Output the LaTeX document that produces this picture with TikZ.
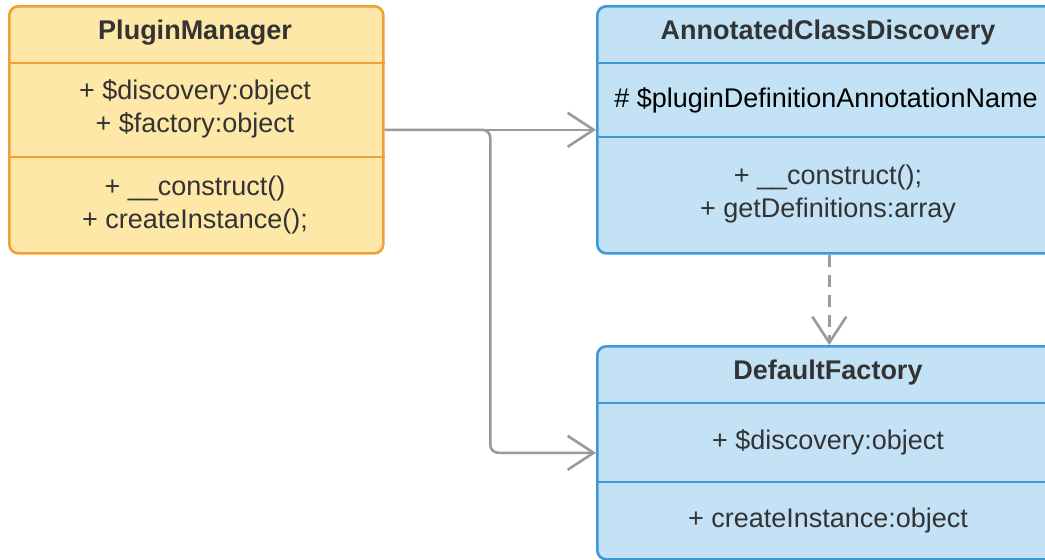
\documentclass[tikz,border=0pt]{standalone}
\usepackage{fontspec}
\setmainfont{Liberation Sans}
\usepackage{xcolor}
\usetikzlibrary{arrows.meta,calc}

\definecolor{pmfill}{HTML}{FEE8A8}
\definecolor{pmedge}{HTML}{F0A136}
\definecolor{clsfill}{HTML}{C3E2F5}
\definecolor{clsedge}{HTML}{3B9AD8}
\definecolor{linkgray}{HTML}{9A9A9A}
\definecolor{txt}{HTML}{333333}

\begin{document}
\begin{tikzpicture}[x=1pt,y=-1pt,
  every node/.style={font=\fontsize{27}{33}\selectfont, text=txt},
  classbox/.style={draw=#1edge, fill=#1fill, line width=2.6pt, rounded corners=9pt,
    anchor=north west, inner sep=0pt},
  divider/.style={draw=#1edge, line width=2.6pt},
  title/.style={font=\fontsize{27}{33}\selectfont\bfseries},
  member/.style={align=center},
  link/.style={draw=linkgray, line width=2.6pt, -{Straight Barb[length=26pt,width=34pt,line width=2.6pt]}},
  depend/.style={link, dash pattern=on 12pt off 8pt}]
\useasboundingbox (0,0) rectangle (1045,560);
\clip (0,0) rectangle (1045,560);

% classes
\node[classbox=pm, minimum width=374pt, minimum height=247pt] (pm) at (8,5) {};
\node[classbox=cls, minimum width=464pt, minimum height=247pt] (acd) at (596,5) {};
\node[classbox=cls, minimum width=464pt, minimum height=213pt] (df) at (596,345) {};

% compartments
\draw[divider=pm] (pm.west |- 0,63) -- (pm.east |- 0,63);
\draw[divider=pm] (pm.west |- 0,157) -- (pm.east |- 0,157);
\draw[divider=cls] (acd.west |- 0,63) -- (acd.east |- 0,63);
\draw[divider=cls] (acd.west |- 0,137) -- (acd.east |- 0,137);
\draw[divider=cls] (df.west |- 0,403) -- (df.east |- 0,403);
\draw[divider=cls] (df.west |- 0,482) -- (df.east |- 0,482);

% texts
\node[title] (pmname) at (195,33) {PluginManager};
\node[member] (pmattr) at (195,109) {+ \$discovery:object\\+ \$factory:object};
\node[member] (pmops) at (195,205) {+ \_\_construct()\\+ createInstance();};

\node[title] (acdname) at (828,33) {AnnotatedClassDiscovery};
\node[member, text=black] (acdattr) at (826,100) {\# \$pluginDefinitionAnnotationName};
\node[member] (acdops) at (828,194) {+ \_\_construct();\\+ getDefinitions:array};

\node[title] (dfname) at (828,373) {DefaultFactory};
\node[member] (dfattr) at (828,442) {+ \$discovery:object};
\node[member] (dfops) at (828,521) {+ createInstance:object};

% relations
\coordinate (fork) at ($(pm.east)!0.5!(acd.west)$);
\draw[link] (pm.east) -- (acd.west);
\draw[link, rounded corners=8pt] (pm.east) -- (fork) |- (df.west);
\draw[depend] (acd.south) -- (df.north);
\end{tikzpicture}
\end{document}
